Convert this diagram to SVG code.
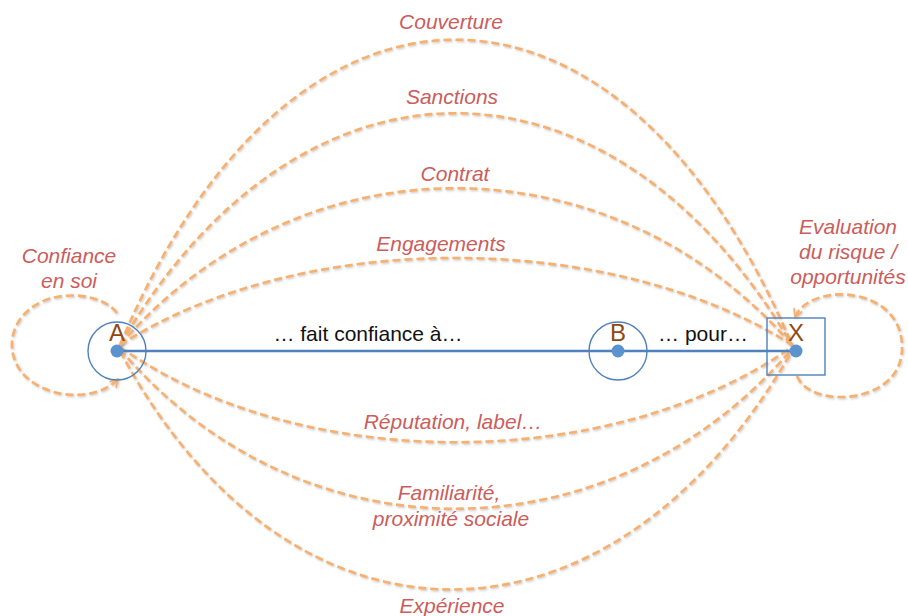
<svg xmlns="http://www.w3.org/2000/svg" width="908" height="616" viewBox="0 0 908 616">
  <defs>
    <filter id="soft" x="-5%" y="-5%" width="110%" height="110%">
      <feDropShadow dx="1" dy="1.2" stdDeviation="0.8" flood-color="#808080" flood-opacity="0.45"/>
    </filter>
    <marker id="chev" viewBox="0 0 10 10" refX="8" refY="5" markerWidth="4" markerHeight="4" orient="auto" markerUnits="strokeWidth">
      <path d="M1,1 L8,5 L1,9" fill="none" stroke="#F7B06E" stroke-width="1.6" stroke-linecap="round"/>
    </marker>
  </defs>
  <style>
    .link { fill: none; stroke: #F7B06E; stroke-width: 2.6; stroke-dasharray: 8 4; filter: url(#soft); }
    .lbl { font-family: "Liberation Sans", Arial, sans-serif; font-size: 21px; font-style: italic; fill: #CB5D5B; text-anchor: middle; }
    .node-ring { fill: none; stroke: #4F81BD; stroke-width: 1.4; }
    .dot { fill: #5B93CF; }
    .letter { font-family: "Liberation Sans", Arial, sans-serif; font-size: 24px; fill: #8E4A12; text-anchor: middle; }
    .rel { font-family: "Liberation Sans", Arial, sans-serif; font-size: 21px; fill: #111111; text-anchor: middle; }
  </style>

  <g id="connectors">
    <!-- trust channels from A to X, above the main axis -->
    <path class="link" d="M120,345 C290,-62 620,-62 792,345"/>
    <path class="link" d="M120,345 C300,36 610,36 792,345"/>
    <path class="link" d="M120,345 C300,136 610,136 792,345"/>
    <path class="link" d="M120,345 C300,229 610,229 792,345"/>
    <!-- trust channels below the main axis -->
    <path class="link" d="M120,347 C300,474 610,474 792,347"/>
    <path class="link" d="M120,349 C300,562 610,562 792,349"/>
    <path class="link" d="M120,351 C290,669 610,669 792,351"/>
    <!-- self loops -->
    <path class="link" marker-end="url(#chev)" d="M117,313 C95,285 20,288 12,340 C8,395 90,410 118,379"/>
    <path class="link" marker-end="url(#chev)" d="M797,376 C810,410 905,405 902,345 C900,285 810,282 795,317"/>
    <!-- main axis A - B - X -->
    <line x1="117" y1="351" x2="796" y2="351" stroke="#4F81BD" stroke-width="2.6"/>
  </g>

  <g id="node-A">
    <circle class="node-ring" cx="117" cy="351" r="29"/>
    <text class="letter" x="117" y="341">A</text>
    <circle class="dot" cx="117" cy="351" r="6.5"/>
  </g>

  <g id="node-B">
    <circle class="node-ring" cx="618" cy="351" r="29"/>
    <text class="letter" x="618" y="341">B</text>
    <circle class="dot" cx="618" cy="351" r="6.5"/>
  </g>

  <g id="node-X">
    <rect class="node-ring" x="767" y="318" width="58" height="57"/>
    <text class="letter" x="796" y="341">X</text>
    <circle class="dot" cx="796" cy="351" r="6.5"/>
  </g>

  <g id="labels">
    <text class="rel" x="368" y="341">… fait confiance à…</text>
    <text class="rel" x="703" y="341">… pour…</text>
    <text class="lbl" x="451" y="29">Couverture</text>
    <text class="lbl" x="452" y="104">Sanctions</text>
    <text class="lbl" x="455" y="181">Contrat</text>
    <text class="lbl" x="441" y="251">Engagements</text>
    <text class="lbl" x="453" y="429">Réputation, label…</text>
    <text class="lbl" x="449" y="500">Familiarité,</text>
    <text class="lbl" x="451" y="526">proximité sociale</text>
    <text class="lbl" x="452" y="613">Expérience</text>
    <text class="lbl" x="69" y="263">Confiance</text>
    <text class="lbl" x="69" y="288">en soi</text>
    <text class="lbl" x="848" y="234">Evaluation</text>
    <text class="lbl" x="848" y="259">du risque /</text>
    <text class="lbl" x="848" y="284">opportunités</text>
  </g>
</svg>
